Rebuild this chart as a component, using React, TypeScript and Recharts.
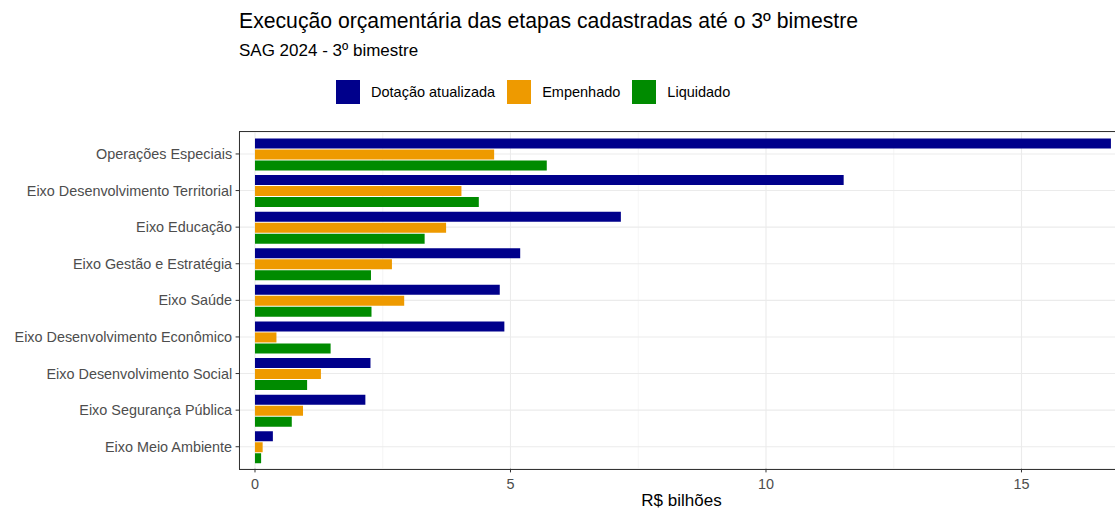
import {
  Bar,
  BarChart,
  CartesianGrid,
  XAxis,
  YAxis,
} from "recharts";

const categories = [
  "Operações Especiais",
  "Eixo Desenvolvimento Territorial",
  "Eixo Educação",
  "Eixo Gestão e Estratégia",
  "Eixo Saúde",
  "Eixo Desenvolvimento Econômico",
  "Eixo Desenvolvimento Social",
  "Eixo Segurança Pública",
  "Eixo Meio Ambiente",
];

const dotacao = [16.75, 11.52, 7.16, 5.19, 4.79, 4.88, 2.26, 2.16, 0.35];
const empenhado = [4.68, 4.04, 3.74, 2.68, 2.92, 0.42, 1.29, 0.94, 0.15];
const liquidado = [5.71, 4.38, 3.32, 2.27, 2.28, 1.48, 1.02, 0.72, 0.12];

const majorTicks = [0, 5, 10, 15];
const minorTicks = [2.5, 7.5, 12.5];

const series = [
  { key: "dotacao", name: "Dotação atualizada", color: "#00008B" },
  { key: "empenhado", name: "Empenhado", color: "#EE9A00" },
  { key: "liquidado", name: "Liquidado", color: "#008B00" },
];

const rows = categories.map((name, i) => ({
  name,
  dotacao: dotacao[i],
  empenhado: empenhado[i],
  liquidado: liquidado[i],
}));

const font = '"Liberation Sans", Arial, sans-serif';
const xDomain: [number, number] = [-0.307, 17];

// panel frame (theme_bw border), in px
const panel = { left: 239.3, top: 132, bottom: 468.7 };

function LegendBox() {
  return (
    <div
      style={{
        position: "absolute",
        left: 336,
        top: 80,
        display: "flex",
        alignItems: "center",
        fontFamily: font,
        fontSize: 14.5,
        color: "#000",
        whiteSpace: "nowrap",
      }}
    >
      {series.map((s) => (
        <div key={s.key} style={{ display: "flex", alignItems: "center", marginRight: 12 }}>
          <span style={{ width: 24, height: 24, background: s.color, display: "inline-block", marginRight: 11 }} />
          <span>{s.name}</span>
        </div>
      ))}
    </div>
  );
}

export default function App() {
  return (
    <div
      style={{
        position: "absolute",
        left: 0,
        top: 0,
        width: 1115,
        height: 510,
        overflow: "hidden",
        background: "#fff",
        fontFamily: font,
      }}
    >
      <div style={{ position: "absolute", left: 239, top: 9, fontSize: 21.2, color: "#000", whiteSpace: "nowrap" }}>
        Execução orçamentária das etapas cadastradas até o 3º bimestre
      </div>
      <div style={{ position: "absolute", left: 239, top: 41, fontSize: 17, color: "#000", whiteSpace: "nowrap" }}>
        SAG 2024 - 3º bimestre
      </div>
      <LegendBox />
      <BarChart
        width={1130}
        height={510}
        data={rows}
        layout="vertical"
        margin={{ top: panel.top, right: 6.3, bottom: 0, left: 0 }}
        barCategoryGap={2.8}
        barGap={1}
      >
        <CartesianGrid xAxisId="minor" horizontal={false} stroke="#F2F2F2" strokeWidth={0.8} />
        <CartesianGrid stroke="#EBEBEB" strokeWidth={1.1} />
        <XAxis xAxisId="minor" type="number" domain={xDomain} ticks={minorTicks} allowDataOverflow hide />
        <XAxis
          type="number"
          domain={xDomain}
          ticks={majorTicks}
          allowDataOverflow
          height={510 - panel.bottom}
          axisLine={false}
          tickSize={3.7}
          tickMargin={6}
          stroke="#333333"
          tick={{ fill: "#4D4D4D", fontSize: 14.4, fontFamily: font }}
          label={{ value: "R$ bilhões", position: "insideBottom", offset: 4, fill: "#000", fontSize: 17, fontFamily: font }}
        />
        <YAxis
          type="category"
          dataKey="name"
          width={panel.left}
          padding={{ top: 3.66, bottom: 3.66 }}
          axisLine={false}
          tickSize={3.7}
          tickMargin={3.5}
          stroke="#333333"
          interval={0}
          tick={{ fill: "#4D4D4D", fontSize: 14.4, fontFamily: font }}
        />
        {series.map((s) => (
          <Bar key={s.key} dataKey={s.key} name={s.name} fill={s.color} isAnimationActive={false} />
        ))}
      </BarChart>
      <div
        style={{
          position: "absolute",
          left: panel.left - 0.6,
          top: panel.top - 0.6,
          width: 1115,
          height: panel.bottom - panel.top,
          border: "1.2px solid #333333",
          pointerEvents: "none",
        }}
      />
    </div>
  );
}
